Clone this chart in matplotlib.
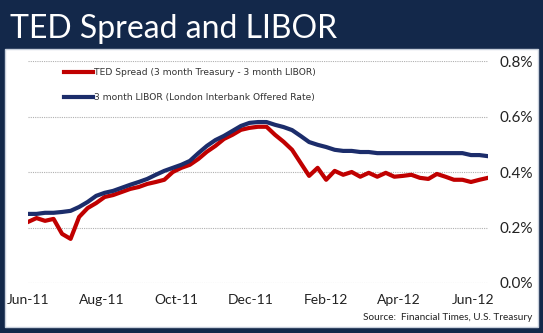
import pandas as pd
import matplotlib.pyplot as plt
import matplotlib.dates as mdates
from matplotlib.patches import Rectangle
from matplotlib.ticker import FuncFormatter

# weekly observations, Jun-2011 to Jun-2012 (percent)
dates = pd.date_range('2011-06-01', periods=55, freq='7D')

libor = [0.249, 0.249, 0.253, 0.253, 0.256, 0.260, 0.274, 0.292, 0.314, 0.325,
         0.332, 0.343, 0.354, 0.364, 0.375, 0.390, 0.404, 0.415, 0.426, 0.440,
         0.468, 0.494, 0.515, 0.530, 0.548, 0.566, 0.577, 0.580, 0.580, 0.570,
         0.562, 0.551, 0.530, 0.508, 0.498, 0.490, 0.480, 0.476, 0.476, 0.472,
         0.472, 0.468, 0.468, 0.468, 0.468, 0.468, 0.468, 0.468, 0.468, 0.468,
         0.468, 0.468, 0.461, 0.461, 0.457]

ted = [0.220, 0.234, 0.224, 0.231, 0.177, 0.159, 0.238, 0.270, 0.288, 0.310,
       0.317, 0.328, 0.339, 0.346, 0.357, 0.364, 0.372, 0.400, 0.415, 0.426,
       0.447, 0.473, 0.494, 0.519, 0.534, 0.552, 0.559, 0.563, 0.563, 0.534,
       0.509, 0.480, 0.433, 0.386, 0.415, 0.372, 0.404, 0.390, 0.400, 0.383,
       0.397, 0.383, 0.397, 0.383, 0.386, 0.390, 0.379, 0.375, 0.393, 0.383,
       0.372, 0.372, 0.364, 0.372, 0.379]

ted_label = 'TED Spread (3 month Treasury - 3 month LIBOR)'
libor_label = '3 month LIBOR (London Interbank Offered Rate)'

navy_bg = '#13284a'
red = '#c00000'
blue = '#1c2d6b'

fig = plt.figure(figsize=(5.43, 3.33), dpi=100, facecolor=navy_bg)

# white panel
fig.patches.append(Rectangle((5 / 543, 1 - 327 / 333), 533 / 543, 278 / 333,
                             transform=fig.transFigure, facecolor='white',
                             edgecolor='#c8d0dc', linewidth=1, zorder=-1))

fig.text(10 / 543, 1 - 29 / 333, 'TED Spread and LIBOR', color='white',
         fontsize=23, family='Lato', va='center', ha='left')

ax = fig.add_axes([28 / 543, 1 - 283 / 333, 460 / 543, 222 / 333])
ax.set_facecolor('none')
ax.set_zorder(2)

ax.plot(dates, ted, color=red, lw=3, label=ted_label, solid_joinstyle='round')
ax.plot(dates, libor, color=blue, lw=3, label=libor_label, solid_joinstyle='round')

ax.set_xlim(dates[0], dates[-1])
ax.set_ylim(0, 0.8)
ax.set_yticks([0, 0.2, 0.4, 0.6, 0.8])
ax.yaxis.set_major_formatter(FuncFormatter(lambda v, p: f'{v:.1f}%'))
ax.yaxis.tick_right()
ax.xaxis.set_major_locator(mdates.MonthLocator(bymonth=[2, 4, 6, 8, 10, 12]))
ax.xaxis.set_major_formatter(mdates.DateFormatter('%b-%y'))

for s in ax.spines.values():
    s.set_visible(False)
ax.tick_params(length=0, colors='#222222')
ax.tick_params(axis='y', pad=8.5, labelsize=11)
ax.tick_params(axis='x', pad=8, labelsize=10)
for lbl in ax.get_xticklabels() + ax.get_yticklabels():
    lbl.set_family('Lato')

ax.grid(axis='y', color='#b0b0b0', linestyle=(0, (1, 1)), linewidth=0.8)
ax.set_axisbelow(True)

leg = ax.legend(loc='upper left', bbox_to_anchor=(64 / 543, 1 - 68 / 333),
                bbox_transform=fig.transFigure, frameon=False, fontsize=6.6,
                handlelength=3.2, handletextpad=0.1, labelspacing=1.75,
                borderaxespad=0, borderpad=0)
for t in leg.get_texts():
    t.set_color('#333333')

fig.text(532 / 543, 1 - 317 / 333, 'Source:  Financial Times, U.S. Treasury',
         fontsize=7.2, family='Lato', color='#222222', ha='right', va='center')

fig.savefig('out.png', dpi=100, facecolor=navy_bg)
